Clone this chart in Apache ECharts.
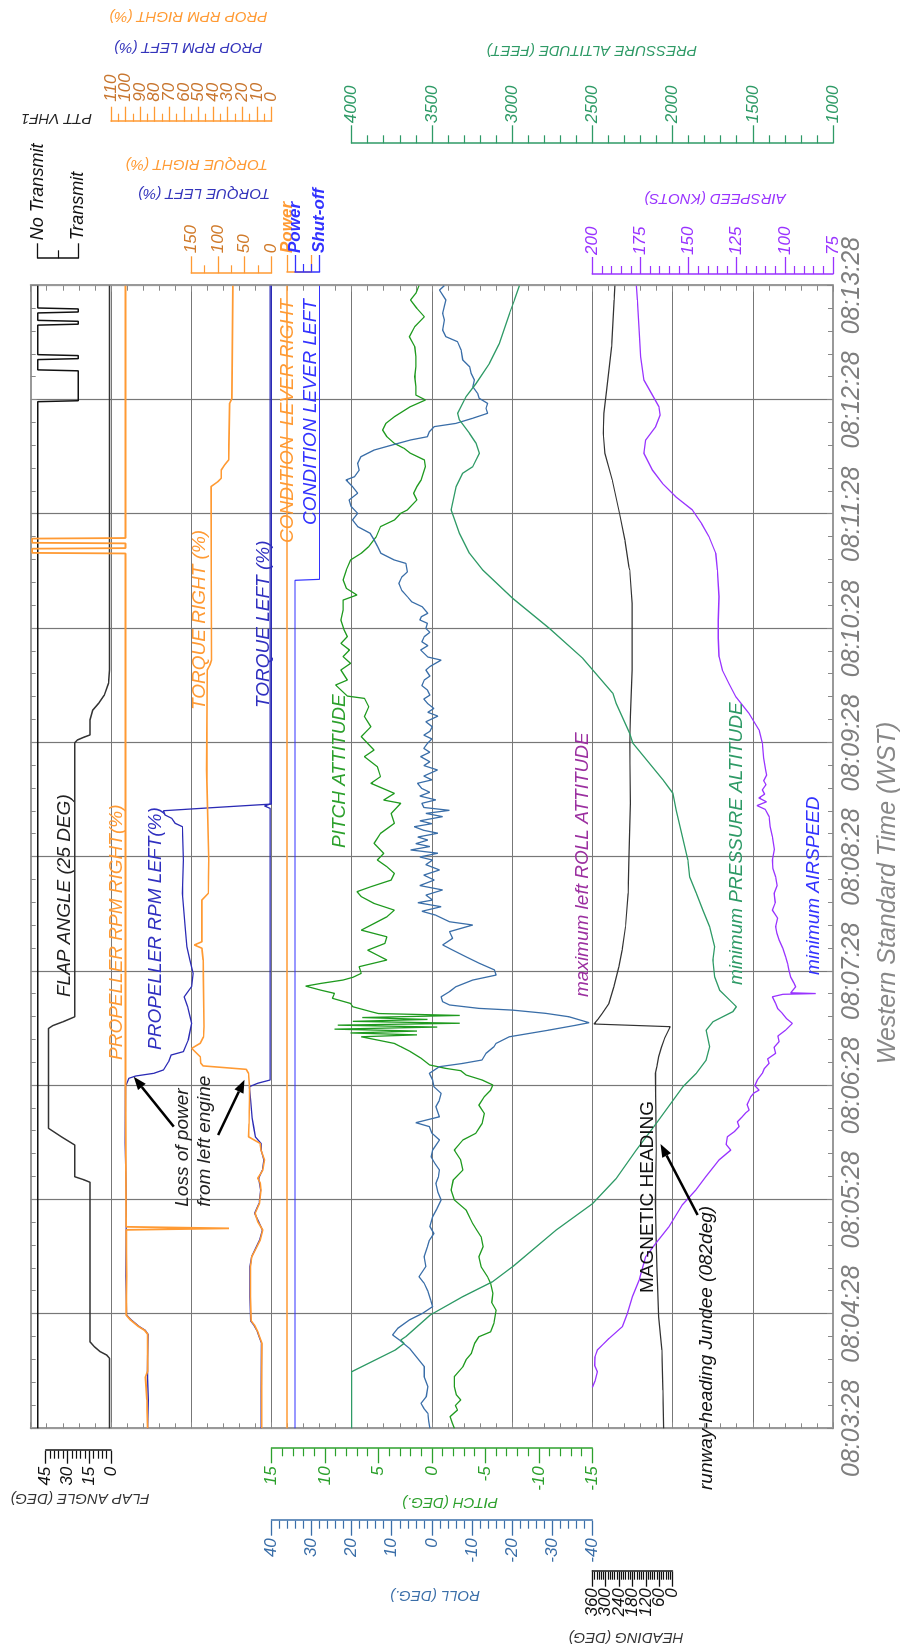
<!DOCTYPE html>
<html>
<head>
<meta charset="utf-8">
<script src="https://cdn.jsdelivr.net/npm/echarts@6.0.0/dist/echarts.min.js"></script>
<style>
  html, body { margin: 0; padding: 0; background: #fff; width: 904px; height: 1652px; overflow: hidden; }
  /* chart is laid out landscape, then turned a quarter turn like the recorder plot */
  #rot { position: absolute; left: 0; top: 0; width: 1652px; height: 904px;
         transform-origin: 0 0; transform: translateY(1652px) rotate(-90deg); }
  #chart { width: 1652px; height: 904px; }
</style>
</head>
<body>
<div id="rot"><div id="chart"></div></div>
<script>
// ---- data: [seconds after 08:03:28, value] ----
const timeLabels = ['08:03:28', '08:04:28', '08:05:28', '08:06:28', '08:07:28', '08:08:28',
  '08:09:28', '08:10:28', '08:11:28', '08:12:28', '08:13:28'];
const rpmTicks = [0, 10, 20, 30, 40, 50, 60, 70, 80, 90, 100, 110];
const headingTicks = [0, 60, 120, 180, 240, 300, 360];

// 1 = no transmit, 0 = transmit
const pttData = [[0,1],[539.1,1],[539.6,0],[555.3,0],[555.8,1],[561.2,1],[561.7,0],[563.3,0],[563.8,1],
  [579.3,1],[579.8,0],[581.3,0],[581.8,1],[585.7,1],[586.2,0],[587.8,0],[588.3,1],[600,1]];

const flapData = [[0,1],[36.8,1],[38.5,3],[40.2,7.3],[42.9,11.5],[45.5,14.5],[129.2,14.5],[130.6,19],
  [132.1,25],[148.8,25],[153,34],[157.5,43],[210,43],[211.5,40],[213.5,33],[216.1,25],[360,25],
  [361.5,23],[362.8,19],[364.1,14.5],[372,14.5],[377.2,12.5],[380.7,8.5],[385.1,4.5],[391.2,1.7],
  [398.2,1],[600,1]];

const rpmRightData = [[0,84.8],[15,85.3],[27,86.3],[30,84.8],[49.4,84.8],[51.5,87],[53.4,91],[56.9,96.6],
  [59.5,99.6],[80,99.3],[104.2,99.6],[105,29],[105.8,99.6],[140,99.8],[179.4,100],[300,100],
  [459.4,100],[459.7,164],[461.9,164],[462.2,100],[464.7,100],[465,164],[467.2,164],[467.5,100],[600,100]];

const rpmLeftData = [[0,84.8],[15,84.4],[30,85],[49.4,84.6],[51.5,86.5],[53.4,90.5],[56.9,96],[59.5,99.3],
  [80,99.8],[120,99.4],[150,100.3],[179.4,100],[183.8,97.7],[185,93],[186.4,80.7],[188.2,74],
  [192.5,70.5],[196,68.8],[197.8,60.3],[203.9,57],[212.7,54.7],[221.4,57.5],[226.6,59.8],[231.9,54.7],
  [238.9,53.6],[245.9,55.8],[252.9,58],[263.4,59.2],[280.9,61],[298.4,60.3],[315.9,61],[317.7,66],
  [320.3,68.3],[322,72.8],[324.3,74],[325.7,45],[327.1,15],[327.8,0],[600,0]];

const torqueRightData = [[0,18],[20,18.5],[44.6,17.7],[48.1,22.3],[50.7,25.5],[54.2,31.6],[56.5,37.9],
  [69.1,39],[84.9,39],[90.1,36.6],[94.5,28.5],[98.9,21],[104.1,16.2],[108.5,25.5],[112.9,30.4],
  [118.2,22.3],[125.1,19.3],[129,21],[131.3,25.5],[135.6,16],[140.9,13],[146.1,19.3],[149.6,21],
  [153.1,42.8],[160,42],[172.4,41],[179.4,41],[186.4,42.8],[188.5,47],[190.3,127.7],[191.7,132],
  [195.1,133],[199.5,149],[202.2,133],[205.6,127],[210.9,126],[245.9,127.7],[252.1,130],[253.8,144],
  [255.5,130],[277.4,130],[280.9,118],[298.4,117],[345.7,121],[398.2,120],[400.8,115],[403.4,112],
  [450,112.5],[494.5,113],[497.1,100],[498.9,93.7],[503.2,93.7],[505.9,87.4],[508.5,80],[538.3,78],
  [540.9,73.8],[600,72]];

const torqueLeftData = [[0,19],[20,19],[44.6,18.5],[48.1,23],[50.7,26],[54.2,33],[56.5,39],[69.1,40],
  [84.9,40],[90.1,37],[94.5,29.5],[98.9,22],[104.1,17],[108.5,24],[112.9,31.5],[118.2,23],[125.1,20],
  [131.3,24],[135.6,17],[140.9,14],[146.1,19],[149.6,19.3],[153.1,30],[158,33],[163,36],[172.4,39],
  [179.4,41],[181.2,25.5],[182.9,2.3],[325.5,2.3],[326.8,13],[327.8,2.3],[600,2.3]];

// 1 = power, 0 = shut-off
const condRightData = [[0,1],[600,1]];
const condLeftData = [[0,1],[445.3,1],[445.8,0],[600,0]];

const pitchData = [[0,-2.1],[3,-1.9],[6.1,-1.7],[9.6,-2.4],[12,-2.2],[14.9,-2.7],[17.5,-2.3],[21.8,-2.1],
  [27.1,-2.1],[32.3,-2.9],[36,-3.2],[39.4,-3.7],[44.6,-4],[48.1,-4.4],[50.7,-5.5],[55.1,-5.8],[62.1,-6],
  [66,-5.6],[70.9,-5.7],[76.1,-5.5],[79.6,-5.2],[84.9,-4.6],[90.1,-4.4],[95.4,-4.8],[100.6,-4.6],
  [104.1,-4.2],[107.7,-3.8],[114.6,-3.2],[119.9,-2.1],[125.1,-1.8],[130.4,-2],[135.6,-2.9],[140.9,-2.7],
  [146.1,-2.1],[151.4,-2.9],[154.9,-4.1],[160.1,-4.7],[165.4,-4.9],[169.7,-4.4],[174.1,-4.9],[177.6,-5.5],
  [180.3,-5.7],[182.9,-4.7],[185.5,-3.2],[187.8,-2.7],[189,-1.3],[190.8,0.2],[194.3,1],[197.8,2],
  [200.4,2.9],[202.1,3.5],[203.9,5.1],[205.6,6.6],[206.6,1.4],[207.6,7.6],[208.6,1.4],[209.6,9.1],
  [210.7,-0.5],[211.7,8.8],[212.7,-2.6],[213.7,7.4],[214.7,0.4],[215.7,6.5],[216.8,-2.6],[217.8,5],
  [218.8,5.7],[221.4,7.4],[223.1,7.6],[225.8,9.3],[228.4,9.1],[230.1,10.4],[232.2,11.8],[233.6,10.4],
  [235.4,8.3],[236.8,7.4],[238.9,6.6],[242.4,6.8],[245.9,4.2],[248.5,5.1],[251.1,6],[254.6,4.4],
  [258.1,4.2],[261.6,6.6],[265.1,5.4],[268.6,4.2],[272.1,3.5],[275.6,5.4],[279.2,6.6],[281.8,7],
  [284.4,5.7],[287.9,3.8],[291.4,3.5],[294.9,4.2],[298.4,5.1],[301.9,4.5],[307.2,5.4],[312.4,4.8],
  [317.7,3.5],[322.9,3.8],[328.2,2.9],[329.9,4.5],[333.4,3.5],[338.7,5.7],[342.2,4.8],[347.4,5.1],
  [352.7,6.3],[356.2,5.4],[363.2,6.6],[368.4,5.7],[373.7,6.3],[378.9,5.9],[383.3,6.3],[384.5,7.9],
  [390.3,9],[392.9,7.9],[398.2,8.5],[401.7,7.6],[405.2,8.3],[408.7,7.7],[412.2,8.5],[415.7,7.9],
  [419.2,8.2],[424.4,8.5],[429.7,8.3],[434.9,8.3],[437.6,7],[441.1,8],[445.5,8.3],[450.7,8],[456,7.6],
  [459.5,6.6],[463,5.9],[468.2,5.2],[473.5,4.8],[477,3.5],[480.5,2.9],[482.2,2.3],[487.5,1.4],[491,1.7],
  [494.5,1.4],[498,1],[505,0.6],[508.5,0.7],[512,2],[514.6,2.6],[517.2,3.5],[520.7,4.2],[524.2,4.6],
  [527.7,4.3],[531.2,3.5],[536.5,2],[540,0.6],[542.6,1.5],[547,1.5],[552.2,1.6],[557.5,1.5],[562.8,1.5],
  [568,1.6],[573.2,2.1],[578.5,1.6],[583.7,0.7],[588.1,1.4],[592.5,2],[596,1.5],[600,1.2]];

const rollData = [[0,0.5],[4,0.8],[7.9,1],[10.5,2],[13.1,2.7],[16.6,1.4],[21.9,1],[27.1,1.9],[32.4,1.9],
  [37.6,3.9],[42,5.6],[46.4,8.1],[49,9.8],[52.5,8.5],[56.9,5.6],[60.4,2.3],[63.9,-0.2],[67.4,0.3],[72,1],
  [76.1,1.9],[79.6,3.2],[84.9,1.5],[90.1,1.9],[95.3,1.1],[98.8,0.6],[102.3,-0.5],[106,0.5],[111.1,-0.2],
  [115,-1.2],[119.9,-2.3],[124,-1.5],[128.6,-1],[132,-1.6],[135.6,-1.9],[139,-0.8],[142.6,0.2],
  [146.1,-0.2],[151.4,-1.9],[155,0],[158.4,0.6],[160.5,4],[163.6,-1.9],[168.9,-1],[172,-1.8],
  [175.9,-2.3],[179.4,-0.5],[182.9,-0.2],[186.4,0.6],[189.9,-1.9],[191.6,-7.7],[193.4,-12.5],
  [196.9,-13.5],[200.4,-15.5],[202.1,-16],[205.6,-19.3],[209.1,-29.2],[211.5,-35.5],[213,-39.2],
  [216.1,-34.2],[217.9,-28.4],[219.6,-20.1],[220.5,-11.8],[222.3,-4.4],[224,-2.7],[226.6,-2.3],
  [229.3,-4.4],[231.9,-6],[235.4,-10.2],[238,-16],[240.7,-15.6],[244.2,-11.8],[247.6,-8.5],[251.1,-5.2],
  [253.8,-2.7],[257.3,-5.2],[260.8,-4.4],[264.3,-10.2],[266,-4.4],[269.5,-0.9],[271.5,2.5],[273.9,-2.3],
  [276,3.5],[277.4,-0.2],[280,1.5],[282.7,-2.7],[285,3],[287.9,-0.6],[290.5,2],[293.2,-1.9],[296,1.5],
  [298.4,-0.2],[300,3],[302,-1.5],[303.7,5.3],[305.5,0.5],[307,4],[308.9,1],[310.5,3.5],[312.5,-1.5],
  [314,2],[315.9,4.4],[317.5,0],[319,3],[321.2,-2.7],[322.9,1.5],[324.5,-4.4],[326,2],[328.2,2.5],
  [330,-1],[332,3],[334,0.5],[336,2.5],[338.7,3.6],[340.5,0],[342.5,2],[345.7,-1.4],[348,2],[350,0.5],
  [352.7,2.8],[355,0.5],[357,2],[359.7,1.1],[362,0],[364,2],[366,0.5],[368.4,-0.1],[371,1.5],[374,-1.5],
  [376,1],[378,-0.5],[380.7,1.1],[383,2],[385,0.5],[387.7,1.1],[390,2.5],[392.9,1.9],[395,0.5],
  [398.2,1.5],[400,0.5],[403.4,-2.3],[405,1],[408.7,2.8],[411,1],[413,2.5],[415.7,1.9],[418,0.5],
  [420,1.5],[422.7,1.1],[424.5,3],[426.2,2.6],[428,1],[431.4,2.4],[434,5],[436.7,6.1],[440,7.5],
  [443.7,8.2],[447,7.5],[449.7,6.1],[454.2,6.5],[456,9.4],[459.5,12.7],[463,13.5],[466.5,14.4],
  [470,15.4],[473.5,18.5],[477,19.8],[480.5,18.5],[484,20.1],[487.5,20.6],[491,18.5],[494.5,19.8],
  [498,21.4],[499.7,19.3],[503.2,18.1],[506.7,18.5],[510.2,17.7],[513.7,14.4],[516.4,9.8],[519,5.3],
  [520.7,1.1],[523.4,0.6],[526,-0.6],[527.7,-6],[530.4,-10.2],[533,-13.9],[535.6,-13.5],[538.2,-13.9],
  [540.9,-11.8],[543.5,-11.4],[547,-10.2],[550.5,-10.6],[554,-9.8],[557.5,-9.4],[561,-7.7],[566.2,-7.3],
  [570.6,-6.4],[573.2,-3.5],[576.7,-2.7],[582,-3.1],[585.5,-2.7],[592.5,-3.5],[597.7,-1.9],[600,-3.1]];

const headingData = [[0,40],[20,43],[41.1,47.7],[58.6,62.5],[70,66],[84.9,70],[100,74],[119.9,77.2],
  [135,75],[146.1,73],[165,75],[186.4,77.3],[190,70],[195.1,62.5],[200,50],[205,35],[210.9,10.4],
  [212.3,352.5],[215,333],[217.9,315.5],[223.1,285.6],[231.9,263.3],[242.4,241],[251.1,226],[263.4,211],
  [280.9,199.3],[298.4,196.3],[328.2,188.8],[359.7,191.9],[373.7,188.8],[398.2,181.6],[433.2,181.6],
  [450.7,192],[452.5,196.3],[466.5,214],[480.5,237.9],[498,270.6],[512,303.4],[522.5,311],[533,307.9],
  [545.2,296],[568,273.7],[592.5,261.8],[600,258.8]];

const altitudeData = [[0,4000],[29.7,4000],[41.1,3728],[44.6,3673],[46.3,3694],[48.1,3663],[59.5,3510],
  [69.1,3308],[77,3121],[84.9,2996],[104.1,2725],[118.1,2497],[131.2,2351],[146.1,2226],[160.1,2101],
  [179.4,1935],[186.4,1852],[193.4,1790],[200.4,1769],[209.1,1790],[213.5,1748],[218.8,1624],
  [221.4,1602],[224.9,1644],[230.1,1707],[237.1,1738],[245.9,1748],[252.9,1738],[263.4,1769],
  [272.1,1811],[280.9,1852],[289.6,1894],[298.4,1904],[324.7,1977],[333.5,1998],[340.5,2060],
  [359.7,2247],[365,2268],[380.7,2351],[386,2372],[398.2,2497],[404.3,2559],[420,2767],[435.8,2996],
  [450.7,3183],[459.5,3266],[470,3328],[482.3,3380],[494.5,3349],[501.5,3308],[505,3245],[512,3204],
  [517.2,3224],[522.5,3266],[529.5,3328],[533,3339],[541.7,3287],[548.7,3224],[559.2,3141],[569.7,3079],
  [585.5,3016],[592.5,2985],[600,2954]];

const airspeedData = [[21.5,200],[25,198.5],[29.7,197.4],[33,198.8],[37.6,198.6],[41.1,197.4],[44,194.5],
  [47.2,191.3],[53.4,184.4],[60.3,181.8],[69.1,179.2],[77.8,175.7],[84,174],[90.1,172.3],[97.1,167.1],
  [105.9,160.2],[117.3,153.3],[125.1,146.3],[132.1,141.1],[140.9,134.2],[146.1,128.1],[149,130.5],
  [153.1,129.9],[156,126],[158.4,123.8],[161,124.6],[163.6,122.1],[165.5,120.5],[167.1,118.6],
  [170,119.6],[174.1,117.7],[176,116.2],[177.6,113.4],[180,115.6],[182.9,114.3],[186.4,111.7],
  [189,110.6],[191.6,108.2],[194,108.9],[196.9,104.8],[200,105.6],[203,103],[206,103.6],[209.1,99.6],
  [212.6,96.1],[215,99],[217.9,101.3],[220.5,103.8],[223.1,104.8],[226.6,106.5],[227.9,101],[228.3,84],
  [228.7,97],[231.9,94.4],[233.6,95.2],[237,97],[240.7,97.9],[244,98.6],[247.6,99.6],[252,101],
  [256.4,103],[260,104.2],[263.4,104.8],[268,103.8],[272.1,106.5],[276,105],[280.9,105.6],[285,104],
  [289.6,104.8],[294,106.2],[298.4,106.5],[304,105.5],[310.7,106.5],[316,107.6],[321.2,108.2],
  [325,110.2],[327,114.5],[329,109.5],[331,113.5],[333,110.5],[335.2,111.7],[338,109.8],[340,111],
  [343,109.5],[345.7,110],[352,111],[359.7,111.7],[366.7,113.4],[375.4,118.6],[384.2,125.5],[391,129],
  [398.2,132.5],[405.2,134.2],[415,134.6],[424.4,134.6],[436.7,134.2],[450.7,135.1],[459.5,135.9],
  [468.2,139.4],[475,143.2],[482.3,148.1],[489.2,156.7],[496.2,163.6],[503.2,168.8],[512,173.2],
  [519,172.3],[526,167.1],[532.1,164.8],[536.5,165.4],[542.6,168.8],[550.5,173.2],[562.7,174.9],
  [576.7,175.7],[592.5,176.6],[600,177.1]];

// ---- layout (landscape, before the quarter turn) ----
const FONT = '"Liberation Sans", Arial, Helvetica, sans-serif';
const PL = 223.7, PT = 30.7, PW = 1142.6, PH = 802.3, GU = PH / 10;
const ORANGE = '#ff9a33', BLUE = '#2b2bb5', BRIGHTBLUE = '#3333ff', PITCH = '#1f9a1f',
  ROLL = '#3a6ea8', ALT = '#2e9a66', SPEED = '#9933ff', GREYLINE = '#777';

function band(top, bottom) {
  return { left: PL, width: PW, top: top, height: bottom - top, outerBoundsMode: 'none' };
}
const grids = [
  band(PT, PT + PH),            // 0 frame
  band(37.7, 78.3),             // 1 ptt
  band(45.7, PT + GU),          // 2 flap
  band(PT + GU, PT + 3 * GU),   // 3 prop rpm
  band(PT + 2 * GU, PT + 3 * GU), // 4 torque
  band(287, 311.5),             // 5 condition right
  band(295, 319.5),             // 6 condition left
  band(PT + 3 * GU, PT + 7 * GU), // 7 pitch / roll
  band(PT + 7 * GU, PT + 8 * GU), // 8 heading
  band(PT + 4 * GU, PT + 10 * GU), // 9 altitude
  band(PT + 7 * GU, PT + 10 * GU)  // 10 airspeed
];

function hiddenX(g) { return { type: 'value', gridIndex: g, min: 0, max: 600, show: false }; }

function valAxis(o) {
  return {
    type: 'value', gridIndex: o.grid, position: o.pos, offset: o.offset,
    min: o.min, max: o.max, interval: o.interval,
    axisLine: { show: true, onZero: false, lineStyle: { color: o.color, width: 1.5 } },
    axisTick: { show: true, length: o.tick || 15, lineStyle: { color: o.color, width: 1.3 } },
    minorTick: { show: (o.minor || 1) > 1, splitNumber: o.minor || 1, length: 8,
      lineStyle: { color: o.color, width: 1.2 } },
    splitLine: { show: false },
    axisLabel: { show: !o.ownLabels, margin: o.margin, color: o.labelColor || o.color, fontSize: o.size || 17,
      fontStyle: 'italic', fontWeight: o.weight || 'normal', fontFamily: FONT,
      showMinLabel: true, showMaxLabel: true, hideOverlap: false,
      formatter: o.formatter || (v => String(v)) }
  };
}

const frameAxisX = (pos, labels) => ({
  type: 'value', gridIndex: 0, position: pos, min: 0, max: 600, interval: 60,
  axisLine: { onZero: false, lineStyle: { color: '#999', width: 2 } },
  axisTick: { inside: true, length: 6, lineStyle: { color: '#888' } },
  minorTick: { show: true, splitNumber: 5, length: 5, lineStyle: { color: '#888' } },
  splitLine: { show: labels, lineStyle: { color: GREYLINE, width: 1.2 } },
  axisLabel: { show: labels, margin: 7, fontSize: 25, fontStyle: 'italic', color: '#7f7f7f',
    fontFamily: FONT, showMinLabel: true, showMaxLabel: true, hideOverlap: false,
    formatter: v => timeLabels[Math.round(v / 60)] }
});
const frameAxisY = (pos, lines) => ({
  type: 'value', gridIndex: 0, position: pos, min: 0, max: 10, interval: 1,
  axisLine: { onZero: false, lineStyle: { color: '#999', width: 2 } },
  axisTick: { inside: true, length: 6, lineStyle: { color: '#888' } },
  minorTick: { show: true, splitNumber: 5, length: 5, lineStyle: { color: '#888' } },
  splitLine: { show: lines, lineStyle: { color: GREYLINE, width: 1.2 } },
  axisLabel: { show: false }
});

const xAxes = [frameAxisX('bottom', true), frameAxisX('top', false)];
for (let g = 1; g < grids.length; g++) xAxes.push(hiddenX(g));

const rpmAxis = { grid: 3, pos: 'right', offset: 164, min: 0, max: 110, interval: 10, minor: 2, color: ORANGE,
  labelColor: '#c8762f', margin: 20, ownLabels: true };
const headingAxis = { grid: 8, pos: 'left', offset: 143.4, min: 0, max: 360, interval: 60, minor: 6,
  color: '#111', margin: 16.5, ownLabels: true };

const yAxes = [
  frameAxisY('left', true), frameAxisY('right', false),
  valAxis({ grid: 1, pos: 'right', offset: 27.4, min: 0, max: 1, interval: 1, minor: 2, color: '#111',
    margin: 18, size: 18, formatter: v => (v === 1 ? 'No Transmit' : v === 0 ? 'Transmit' : '') }),
  valAxis({ grid: 2, pos: 'left', offset: 22.4, min: 0, max: 45, interval: 15, minor: 5, color: '#111',
    margin: 16, tick: 13 }),
  valAxis(rpmAxis),
  valAxis({ grid: 4, pos: 'right', offset: 12.4, min: 0, max: 150, interval: 50, minor: 2, color: ORANGE,
    labelColor: '#d07a2a', margin: 20, tick: 17 }),
  valAxis({ grid: 5, pos: 'right', offset: 13.7, min: 0, max: 1, interval: 1, color: ORANGE,
    margin: 19, tick: 17, weight: 'bold', formatter: v => (v === 1 ? 'Power' : '') }),
  valAxis({ grid: 6, pos: 'right', offset: 13.7, min: 0, max: 1, interval: 1, minor: 3, color: BRIGHTBLUE,
    margin: 19, tick: 17, weight: 'bold', formatter: v => (v === 1 ? 'Power' : 'Shut-off') }),
  valAxis({ grid: 7, pos: 'left', offset: 20, min: -15, max: 15, interval: 5, minor: 5, color: '#2ca02c',
    margin: 18 }),
  valAxis({ grid: 7, pos: 'left', offset: 92.4, min: -40, max: 40, interval: 10, minor: 5, color: ROLL,
    margin: 17.5 }),
  valAxis(headingAxis),
  valAxis({ grid: 9, pos: 'right', offset: 142.4, min: 1000, max: 4000, interval: 500, minor: 5, color: ALT,
    margin: 20, tick: 18 }),
  valAxis({ grid: 10, pos: 'right', offset: 11.7, min: 75, max: 200, interval: 25, minor: 5, color: SPEED,
    margin: 19, tick: 17 })
];

function trace(name, axis, data, color, width) {
  return { name: name, type: 'line', xAxisIndex: axis[0], yAxisIndex: axis[1], data: data,
    symbol: 'none', showSymbol: false, clip: false, silent: true,
    lineStyle: { color: color, width: width } };
}

const series = [
  trace('PTT VHF1', [2, 2], pttData, '#111', 1.5),
  trace('Flap angle', [3, 3], flapData, '#333', 1.5),
  trace('Prop RPM left', [4, 4], rpmLeftData, BLUE, 1.3),
  trace('Prop RPM right', [4, 4], rpmRightData, ORANGE, 1.8),
  trace('Torque left', [5, 5], torqueLeftData, BLUE, 1.3),
  trace('Torque right', [5, 5], torqueRightData, ORANGE, 1.6),
  trace('Condition lever right', [6, 6], condRightData, ORANGE, 1.6),
  trace('Condition lever left', [7, 7], condLeftData, BRIGHTBLUE, 1.2),
  trace('Pitch', [8, 8], pitchData, PITCH, 1.3),
  trace('Roll', [8, 9], rollData, ROLL, 1.3),
  trace('Heading', [9, 10], headingData, '#333', 1.2),
  trace('Pressure altitude', [10, 11], altitudeData, ALT, 1.3),
  trace('Airspeed', [11, 12], airspeedData, SPEED, 1.3)
];

const chart = echarts.init(document.getElementById('chart'), null, { width: 1652, height: 904 });
chart.setOption({ animation: false, grid: grids, xAxis: xAxes, yAxis: yAxes, series: series });

// ---- texts ----
function txt(s, x, y, color, size, opts) {
  opts = opts || {};
  return { type: 'text', x: x, y: y, rotation: opts.rot || 0, silent: true, z: 100,
    style: { text: s, x: 0, y: 0, fill: color,
      font: (opts.upright ? 'normal ' : 'italic ') + (opts.weight || 'normal') + ' ' + size + 'px ' + FONT,
      align: opts.align || 'left', verticalAlign: 'middle' } };
}
const up = Math.PI / 2;
const graphics = [
  // axis titles
  txt('FLAP ANGLE (DEG)', 154, 80, '#333', 15, { rot: up, align: 'center' }),
  txt('PITCH (DEG.)', 150.3, 450, '#2ca02c', 15, { rot: up, align: 'center' }),
  txt('ROLL (DEG.)', 57, 435, ROLL, 15, { rot: up, align: 'center' }),
  txt('HEADING (DEG)', 15.3, 626, '#333', 15, { rot: up, align: 'center' }),
  txt('PTT VHF1', 1533.7, 56.7, '#222', 15, { rot: up, align: 'center' }),
  txt('PROP RPM RIGHT (%)', 1636, 188.3, ORANGE, 15, { rot: up, align: 'center' }),
  txt('PROP RPM LEFT (%)', 1605.3, 188.3, '#3333bb', 15, { rot: up, align: 'center' }),
  txt('TORQUE RIGHT (%)', 1487.7, 196.7, ORANGE, 15, { rot: up, align: 'center' }),
  txt('TORQUE LEFT (%)', 1459.3, 204, '#3333bb', 15, { rot: up, align: 'center' }),
  txt('PRESSURE ALTITUDE (FEET)', 1602, 591.7, ALT, 15, { rot: up, align: 'center' }),
  txt('AIRSPEED (KNOTS)', 1453.7, 715, SPEED, 15, { rot: up, align: 'center' }),
  // trace notes
  txt('FLAP ANGLE (25 DEG)', 655, 64.7, '#222', 19),
  txt('PROPELLER RPM RIGHT(%)', 592, 117, ORANGE, 19),
  txt('PROPELLER RPM LEFT(%)', 602, 155.5, '#3030c0', 19),
  txt('Loss of power', 445.3, 182.5, '#222', 19),
  txt('from left engine', 445.3, 205, '#222', 19),
  txt('TORQUE RIGHT (%)', 942, 199.7, ORANGE, 19),
  txt('TORQUE LEFT (%)', 944, 263.5, '#3030c0', 19),
  txt('CONDITION  LEVER RIGHT', 1109, 287.5, ORANGE, 19),
  txt('CONDITION LEVER LEFT', 1127, 311, BRIGHTBLUE, 19),
  txt('PITCH ATTITUDE', 804, 339.7, '#2ca02c', 19),
  txt('maximum left ROLL ATTITUDE', 655, 583, '#9b30a0', 19),
  txt('MAGNETIC HEADING', 359, 647.5, '#111', 19, { upright: true }),
  txt('runway-heading Jundee (082deg)', 162, 707, '#111', 19),
  txt('minimum PRESSURE ALTITUDE', 667, 736.5, ALT, 19),
  txt('minimum AIRSPEED', 677, 813.3, BRIGHTBLUE, 19),
  txt('Western Standard Time (WST)', 759, 888, '#888', 25, { align: 'center' })
];

// tick labels for the tightly packed scales, placed through the axis scale
function ownTickLabels(axisIndex, spec, ticks) {
  const right = spec.pos === 'right';
  const x = right ? PL + PW + spec.offset + spec.margin : PL - spec.offset - spec.margin;
  ticks.forEach(v => {
    const y = chart.convertToPixel({ xAxisIndex: spec.grid + 1, yAxisIndex: axisIndex }, [0, v])[1];
    graphics.push(txt(String(v), x, y, spec.labelColor || spec.color, 17, { align: right ? 'left' : 'right' }));
  });
}
ownTickLabels(4, rpmAxis, rpmTicks);
ownTickLabels(10, headingAxis, headingTicks);

// arrows anchored in data space: [xAxisIndex, yAxisIndex, from, to]
const arrowSpecs = [
  [4, 4, [158.4, 67], [184.6, 94.4]],
  [5, 5, [154, 99.8], [183, 50.2]],
  [9, 10, [112, -113], [149.3, 53.5]]
];
arrowSpecs.forEach(a => {
  const p = chart.convertToPixel({ xAxisIndex: a[0], yAxisIndex: a[1] }, a[2]);
  const q = chart.convertToPixel({ xAxisIndex: a[0], yAxisIndex: a[1] }, a[3]);
  const dx = q[0] - p[0], dy = q[1] - p[1], L = Math.hypot(dx, dy), ux = dx / L, uy = dy / L;
  const hl = 13, hw = 5, bx = q[0] - ux * hl, by = q[1] - uy * hl;
  graphics.push({ type: 'line', silent: true, z: 101,
    shape: { x1: p[0], y1: p[1], x2: bx, y2: by }, style: { stroke: '#000', lineWidth: 2.5 } });
  graphics.push({ type: 'polygon', silent: true, z: 101,
    shape: { points: [q, [bx - uy * hw, by + ux * hw], [bx + uy * hw, by - ux * hw]] },
    style: { fill: '#000' } });
});

chart.setOption({ graphic: graphics });
</script>
</body>
</html>
